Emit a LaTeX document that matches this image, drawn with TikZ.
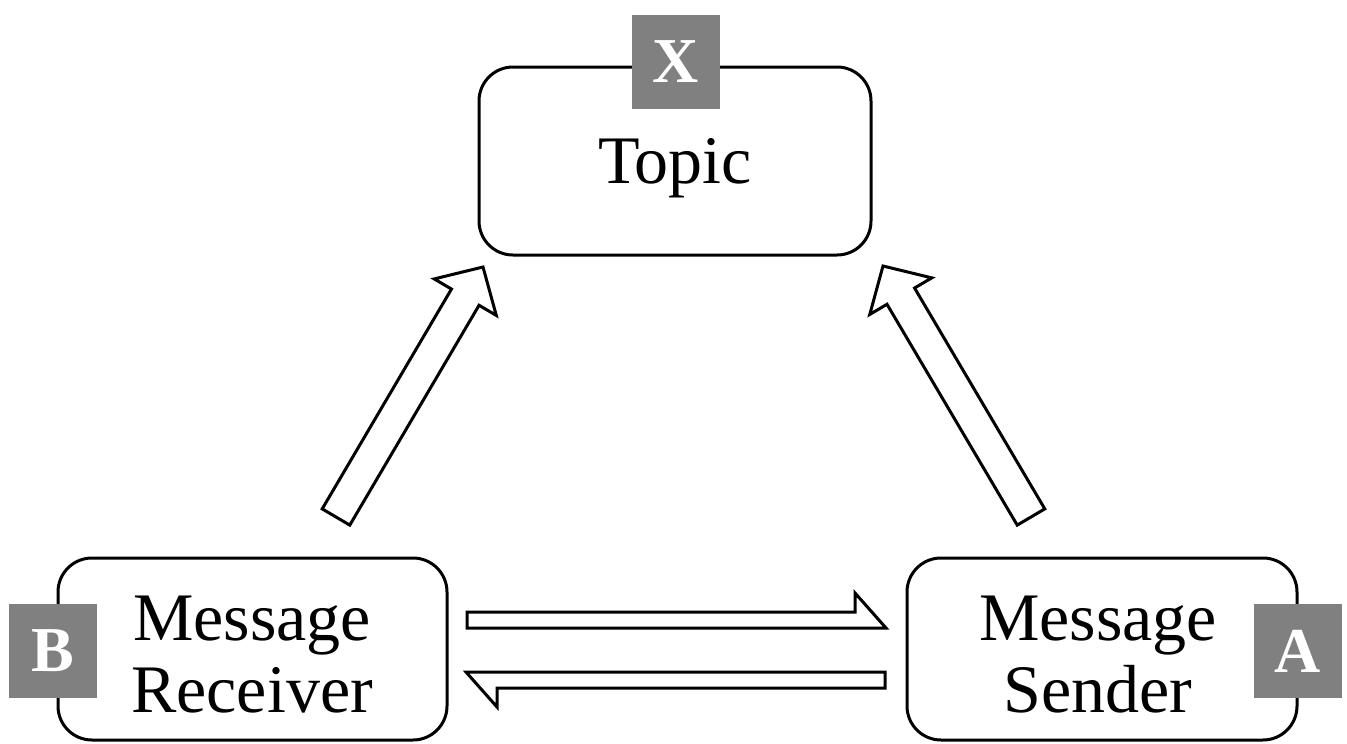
\documentclass[tikz,border=0pt]{standalone}
\usepackage{fontspec}
\setmainfont{Liberation Serif}
\usetikzlibrary{calc}
\definecolor{badgegray}{RGB}{128,128,128}

% hollow block arrow from #1 (tail) to #2 (tip)
% #3 shaft half-width, #4 head half-width, #5 head length
\newcommand\hollowarrow[5]{%
  \coordinate (hb) at ($(#2)!#5!(#1)$);
  \draw[arrowline]
    ($(#1)!#3!90:(#2)$) -- ($(hb)!#3!90:(#2)$) -- ($(hb)!#4!90:(#2)$)
    -- (#2)
    -- ($(hb)!#4!-90:(#2)$) -- ($(hb)!#3!-90:(#2)$) -- ($(#1)!#3!-90:(#2)$)
    -- cycle;
}

\tikzset{
  roundbox/.style={draw=black, line width=3pt, rounded corners=34pt,
    inner sep=0pt},
  badge/.style={fill=badgegray, text=white, inner sep=0pt,
    minimum width=88pt, minimum height=94pt,
    font=\bfseries\fontsize{64}{64}\selectfont},
  label/.style={anchor=base, inner sep=0pt,
    font=\fontsize{68}{72}\selectfont},
  arrowline/.style={draw=black, line width=3pt, line join=miter, fill=white}
}

\begin{document}
\begin{tikzpicture}[x=1pt,y=-1pt]
  \useasboundingbox (0,0) rectangle (1347,744);

  % boxes
  \node[roundbox, minimum width=392pt, minimum height=188pt] (topic) at (675,161) {};
  \node[roundbox, minimum width=389pt, minimum height=182pt] (recv) at (252.5,649) {};
  \node[roundbox, minimum width=390pt, minimum height=182pt] (send) at (1102,649) {};

  % box texts
  \node[label] (topictxt) at (675,183) {Topic};
  \node[label] (recvtxt1) at (252,640) {Message};
  \node[label] (recvtxt2) at (252,712) {Receiver};
  \node[label] (sendtxt1) at (1098,640) {Message};
  \node[label] (sendtxt2) at (1098,712) {Sender};

  % letter badges
  \node[badge] (bx) at (676,61.5) {X};
  \node[badge] (bb) at (52.5,651) {B};
  \node[badge] (ba) at (1297.5,651) {A};

  % arrows towards the topic
  \coordinate (lt) at (336,517);
  \coordinate (lp) at (483,267);
  \coordinate (rt) at (1031,517);
  \coordinate (rp) at (883,266);
  \hollowarrow{lt}{lp}{16pt}{36pt}{35pt}
  \hollowarrow{rt}{rp}{16pt}{36pt}{35pt}

  % half arrows between receiver and sender
  \coordinate (sa) at (467,620);
  \coordinate (sb) at (886,620);
  \draw[arrowline] ($(sa)+(0,-8)$) -- ($(sb)+(-31,-8)$) -- ($(sb)+(-31,-27)$)
    -- ($(sb)+(0,8)$) -- ($(sa)+(0,8)$) -- cycle;

  \coordinate (ra) at (885,680);
  \coordinate (rb) at (466,680);
  \draw[arrowline] ($(ra)+(0,-8)$) -- ($(rb)+(0,-8)$) -- ($(rb)+(31,27)$)
    -- ($(rb)+(31,8)$) -- ($(ra)+(0,8)$) -- cycle;
\end{tikzpicture}
\end{document}
